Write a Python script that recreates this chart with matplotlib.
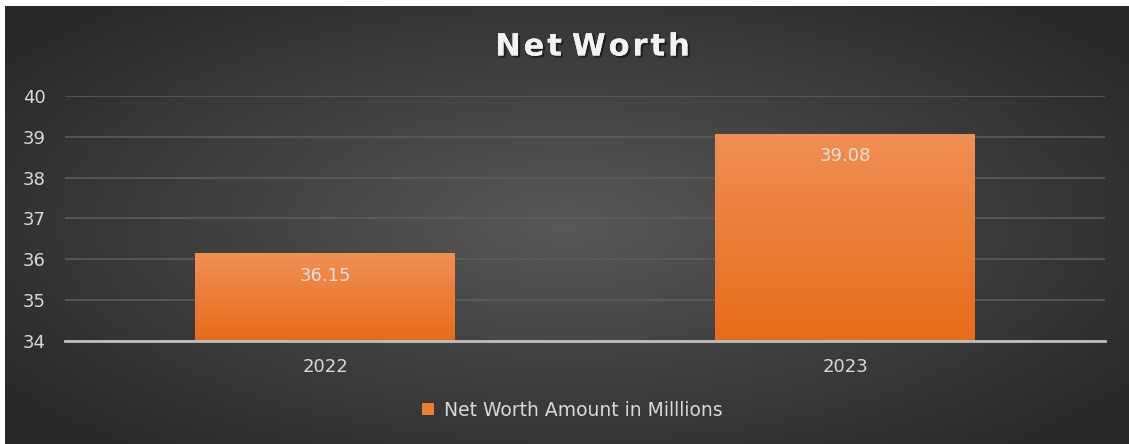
import numpy as np
import matplotlib
matplotlib.use("Agg")
import matplotlib.pyplot as plt
from matplotlib import patheffects as pe
from matplotlib.patches import Patch

categories = ["2022", "2023"]
values = [36.15, 39.08]
value_labels = ["36.15", "39.08"]
yticks = [34, 35, 36, 37, 38, 39, 40]
title = "Net Worth"
series_name = "Net Worth Amount in Milllions"

W, H = 1129, 444
plt.rcParams["font.family"] = ["DejaVu Sans"]
fig = plt.figure(figsize=(W / 100, H / 100), dpi=100, facecolor="white")

# background panel with radial gradient
bg = fig.add_axes([5 / W, 0, 1 - 5 / W, 1 - 6 / H])
bg.set_axis_off()
nx, ny = 400, 160
xx, yy = np.meshgrid(np.linspace(-1, 1, nx), np.linspace(-1, 1, ny))
r = np.sqrt((xx / 1.0) ** 2 + (yy / 1.1) ** 2)
r = np.clip(r / 1.25, 0, 1)
center = np.array([0x58, 0x58, 0x58]) / 255
edge = np.array([0x28, 0x28, 0x28]) / 255
img = center[None, None, :] * (1 - r[..., None]) + edge[None, None, :] * r[..., None]
bg.imshow(img, extent=[0, 1, 0, 1], aspect="auto", interpolation="bilinear")
bg.set_xlim(0, 1)
bg.set_ylim(0, 1)

# main axes
left, right = 65 / W, 1105 / W
bottom, top = 1 - 341 / H, 1 - 96 / H
ax = fig.add_axes([left, bottom, right - left, top - bottom])
ax.patch.set_alpha(0)
x = np.arange(len(categories))
bars = ax.bar(x, np.array(values) - 34, bottom=34, width=0.5, color="#ED7D31",
              zorder=3, edgecolor="none")

# vertical gradient in bars
grad = np.linspace(0, 1, 256)[:, None]
c_top = np.array([0xF1, 0x8F, 0x55]) / 255
c_bot = np.array([0xE6, 0x6C, 0x1A]) / 255
gimg = c_top[None, None, :] * (1 - grad[..., None]) + c_bot[None, None, :] * grad[..., None]
gimg = np.repeat(gimg, 2, axis=1)
for b in bars:
    x0, y0 = b.get_x(), b.get_y()
    w, h = b.get_width(), b.get_height()
    im = ax.imshow(gimg, extent=[x0, x0 + w, y0, y0 + h], aspect="auto",
                   zorder=4, interpolation="bilinear")
    im.set_clip_path(b)

ax.set_xlim(-0.5, 1.5)
ax.set_ylim(34, 40)
ax.set_yticks(yticks)
ax.set_xticks(x)
ax.set_xticklabels(categories)
ax.tick_params(axis="both", length=0, colors="#D9D9D9", labelsize=13)
ax.tick_params(axis="y", pad=14)
ax.tick_params(axis="x", pad=12)
ax.grid(axis="y", color="#5E5E5E", linewidth=1.1, zorder=1)
ax.set_axisbelow(True)
for s in ["top", "right", "left"]:
    ax.spines[s].set_visible(False)
ax.spines["bottom"].set_color("#BFBFBF")
ax.spines["bottom"].set_linewidth(2)
ax.spines["bottom"].set_zorder(5)

for xi, v, lab in zip(x, values, value_labels):
    ax.annotate(lab, (xi, v), xytext=(0, -16.5), textcoords="offset points",
                ha="center", va="center", color="#E0E0E0", fontsize=13, zorder=6)

# title with letter spacing
renderer = fig.canvas.get_renderer()
tkw = dict(fontsize=22, fontweight="bold", color="#F2F2F2", va="center", ha="left",
           path_effects=[pe.withSimplePatchShadow(offset=(1.5, -1.5), alpha=0.5,
                                                  shadow_rgbFace="black"), pe.Normal()])
spacing = 3.0
widths = []
for ch in title:
    t = fig.text(0, 0, ch if ch != " " else "a", **tkw)
    bb = t.get_window_extent(renderer)
    widths.append(bb.width * (0.2 if ch == " " else 1.0))
    t.remove()
total = sum(widths) + spacing * (len(title) - 1)
cx = 592.5
xpos = cx - total / 2
ty = 1 - 47 / H
for ch, wch in zip(title, widths):
    if ch != " ":
        fig.text(xpos / W, ty, ch, **tkw)
    xpos += wch + spacing

handle = Patch(facecolor="#ED7D31", edgecolor="none")
fig.legend([handle], [series_name], loc="center", bbox_to_anchor=(0.507, 1 - 410 / H),
           frameon=False, fontsize=13.5, labelcolor="#D9D9D9", handlelength=0.6,
           handleheight=0.6, handletextpad=0.55)

fig.savefig("out.png", dpi=100, facecolor="white")
